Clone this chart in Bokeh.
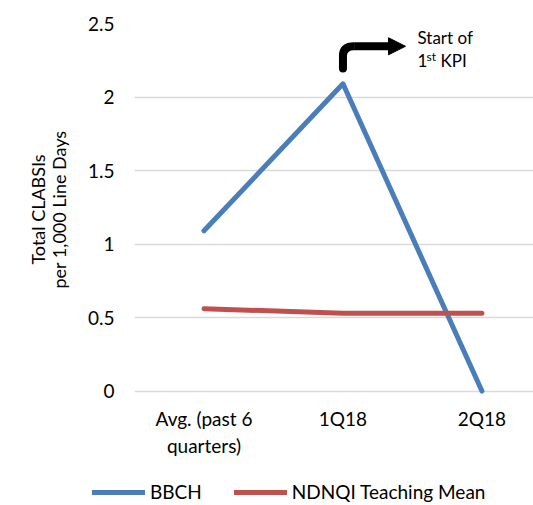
from bokeh.plotting import figure
from bokeh.layouts import column
from bokeh.models import Range1d, FixedTicker, Legend, LegendItem, Arrow, NormalHead
from bokeh.core.properties import value
from bokeh.embed import file_html
from bokeh.resources import INLINE

categories = ["Avg. (past 6\nquarters)", "1Q18", "2Q18"]
bbch = [1.09, 2.09, 0.0]
ndnqi = [0.56, 0.53, 0.53]
series_names = ["BBCH", "NDNQI Teaching Mean"]
y_ticks = [0, 0.5, 1, 1.5, 2, 2.5]
y_tick_labels = ["0", "0.5", "1", "1.5", "2", "2.5"]

FONT = "Lato"
BLUE = "#4A7EBB"
RED = "#C0504D"

xs = list(range(len(categories)))

p = figure(width=533, height=470, output_backend="svg", toolbar_location=None,
           x_range=Range1d(-0.5, 2.371), y_range=Range1d(-0.03, 2.5),
           min_border_left=134, min_border_top=23, min_border_bottom=75, min_border_right=0)
p.outline_line_color = None
p.background_fill_color = "white"
p.border_fill_color = "white"

# axes
p.xaxis.ticker = FixedTicker(ticks=xs)
p.xaxis.major_label_overrides = {i: c for i, c in enumerate(categories)}
p.yaxis.ticker = FixedTicker(ticks=y_ticks)
p.yaxis.major_label_overrides = {t: l for t, l in zip(y_ticks, y_tick_labels)}
for ax in (p.xaxis[0], p.yaxis[0]):
    ax.axis_line_color = None
    ax.major_tick_line_color = None
    ax.minor_tick_line_color = None
    ax.major_label_text_font = FONT
    ax.major_label_text_font_size = "19px"
    ax.major_label_text_color = "black"
    ax.major_label_text_line_height = 1.2
p.yaxis.major_label_standoff = 14
p.xaxis.major_label_standoff = 5
p.yaxis.axis_label = "Total CLABSIs\nper 1,000 Line Days"
p.yaxis.axis_label_text_font = FONT
p.yaxis.axis_label_text_font_size = "18px"
p.yaxis.axis_label_text_font_style = "normal"
p.yaxis.axis_label_text_color = "black"
p.yaxis.axis_label_text_line_height = 0.95
p.yaxis.axis_label_standoff = 15

p.xgrid.grid_line_color = None
p.ygrid.ticker = FixedTicker(ticks=y_ticks)
p.ygrid.grid_line_color = "#D9D9D9"
p.ygrid.grid_line_width = 1.5

p.line(xs, bbch, line_color=BLUE, line_width=5, line_cap="round", line_join="round")
p.line(xs, ndnqi, line_color=RED, line_width=5, line_cap="round", line_join="round")

# bent arrow annotation marking start of 1st KPI
p.line([1, 1], [2.194, 2.28], line_color="black", line_width=8, line_cap="round")
p.quadratic(x0=[1], y0=[2.28], x1=[1.08], y1=[2.345], cx=[1], cy=[2.345],
            line_color="black", line_width=8)
p.add_layout(Arrow(end=NormalHead(size=17, fill_color="black", line_color="black", line_width=1),
                   x_start=1.08, y_start=2.345, x_end=1.45, y_end=2.345,
                   line_color="black", line_width=8))

p.text(x=[1.536], y=[2.405], text=["Start of"], text_font=value(FONT),
       text_font_size="17px", text_baseline="middle", text_color="black")
p.text(x=[1.536], y=[2.249], text=["1"], text_font=value(FONT),
       text_font_size="17px", text_baseline="middle", text_color="black")
p.text(x=[1.536], y=[2.249], text=["st"], text_font=value(FONT), x_offset=9, y_offset=-4,
       text_font_size="12px", text_baseline="middle", text_color="black")
p.text(x=[1.536], y=[2.249], text=["KPI"], text_font=value(FONT), x_offset=23,
       text_font_size="17px", text_baseline="middle", text_color="black")

# legend strip below the chart (swatch lines use the series data, kept out of view)
lg = figure(width=533, height=35, output_backend="svg", toolbar_location=None,
            x_range=Range1d(0, 1), y_range=Range1d(100, 101),
            min_border=0, x_axis_type=None, y_axis_type=None)
lg.outline_line_color = None
lg.xgrid.visible = False
lg.ygrid.visible = False
legend_x = -42
try:
    lg.frame_align = False
    p.frame_align = False
    legend_x = 92
except Exception:
    pass
sw_b = lg.line(xs, bbch, line_color=BLUE, line_width=5, line_cap="round")
sw_r = lg.line(xs, ndnqi, line_color=RED, line_width=5, line_cap="round")
legend = Legend(items=[LegendItem(label=series_names[0], renderers=[sw_b]),
                       LegendItem(label=series_names[1], renderers=[sw_r])],
                location=(legend_x, 2), orientation="horizontal",
                glyph_width=53, glyph_height=20, label_standoff=5, spacing=32,
                padding=0, margin=0, border_line_color=None, background_fill_alpha=0,
                label_text_font=FONT, label_text_font_size="19px", label_text_color="black")
lg.add_layout(legend, "center")

page = column(p, lg, spacing=0)
open("out.html", "w").write(file_html(page, INLINE))
